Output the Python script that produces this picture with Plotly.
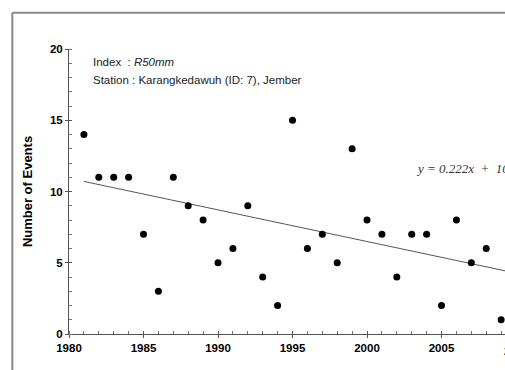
import plotly.graph_objects as go

years = [1981, 1982, 1983, 1984, 1985, 1986, 1987, 1988, 1989, 1990,
         1991, 1992, 1993, 1994, 1995, 1996, 1997, 1998, 1999, 2000,
         2001, 2002, 2003, 2004, 2005, 2006, 2007, 2008, 2009]
events = [14, 11, 11, 11, 7, 3, 11, 9, 8, 5,
          6, 9, 4, 2, 15, 6, 7, 5, 13, 8,
          7, 4, 7, 7, 2, 8, 5, 6, 1]
trend_slope = -0.222
trend_intercept = 10.93
x_tick_vals = [1980, 1985, 1990, 1995, 2000, 2005]
y_tick_vals = [0, 5, 10, 15, 20]
equation_text = "y = 0.222x&nbsp;&nbsp;+&nbsp;&nbsp;10.93"

# trend line over year index (1 = first year)
trend_x = [years[0], 2009.3]
trend_y = [trend_intercept + trend_slope * (x - years[0] + 1) for x in trend_x]

fig = go.Figure()
fig.add_trace(go.Scatter(x=trend_x, y=trend_y, mode="lines",
                         line=dict(color="#555555", width=1), showlegend=False,
                         cliponaxis=False))
fig.add_trace(go.Scatter(x=years, y=events, mode="markers",
                         marker=dict(color="black", size=7), showlegend=False,
                         cliponaxis=False))

tick_font = dict(family="Liberation Sans, Arial", size=11.5, color="black", weight="bold")
x_range = [1980, 2009.26]
y_range = [0, 20]

fig.update_layout(
    xaxis=dict(range=x_range, tickvals=x_tick_vals, ticks="outside",
               ticklen=3, tickcolor="#555", showline=True, linecolor="#555",
               linewidth=1, showgrid=False, zeroline=False, tickfont=tick_font,
               minor=dict(dtick=1, tick0=1980, ticks="inside", ticklen=3,
                          tickcolor="#777", showgrid=False)),
    yaxis=dict(range=y_range, tickvals=y_tick_vals, ticks="outside",
               ticklen=3, tickcolor="#555", showline=True, linecolor="#555",
               linewidth=1, showgrid=False, zeroline=False, tickfont=tick_font,
               title=dict(text="Number of Events", standoff=14,
                          font=dict(family="Liberation Sans, Arial", size=13,
                                    color="black", weight="bold")),
               minor=dict(dtick=1, tick0=0, ticks="inside", ticklen=3,
                          tickcolor="#777", showgrid=False)),
    xaxis2=dict(range=x_range, overlaying="x", tickvals=x_tick_vals,
                ticks="inside", ticklen=3, tickcolor="#555", showticklabels=False,
                showgrid=False, zeroline=False, side="bottom", anchor="y"),
    yaxis2=dict(range=y_range, overlaying="y", tickvals=y_tick_vals,
                ticks="inside", ticklen=3, tickcolor="#555", showticklabels=False,
                showgrid=False, zeroline=False, side="left", anchor="x"),
)
# invisible trace to activate the overlay axes
fig.add_trace(go.Scatter(x=[x_range[0]], y=[y_range[0]], xaxis="x2", yaxis="y2",
                         mode="markers", marker=dict(opacity=0), showlegend=False,
                         hoverinfo="skip"))

fig.add_annotation(xref="paper", yref="paper", x=0.05, y=0.954,
                   xanchor="left", yanchor="middle", showarrow=False,
                   text="Index  : <i>R50mm</i>",
                   font=dict(family="Liberation Sans, Arial", size=11.5, color="#222"))
fig.add_annotation(xref="paper", yref="paper", x=0.05, y=0.891,
                   xanchor="left", yanchor="middle", showarrow=False,
                   text="Station : Karangkedawuh (ID: 7), Jember",
                   font=dict(family="Liberation Sans, Arial", size=11.5, color="#222"))
fig.add_annotation(xref="paper", yref="paper", x=0.792, y=0.582,
                   xanchor="left", yanchor="middle", showarrow=False,
                   text="<i>" + equation_text + "</i>",
                   font=dict(family="Liberation Serif, Times New Roman", size=13,
                             color="#333"))
fig.add_annotation(xref="paper", yref="paper", x=1.0275, y=0, yshift=-17,
                   xanchor="center", yanchor="middle", showarrow=False,
                   text="<b>2010</b>",
                   font=dict(family="Liberation Sans, Arial", size=11.5, color="black"))

# outer frame (top and left edges visible in the crop)
frame_style = dict(color="#888", width=2)
fig.add_shape(type="line", xref="paper", yref="paper",
              x0=-0.13, x1=1.02, y0=1.127, y1=1.127, line=frame_style)
fig.add_shape(type="line", xref="paper", yref="paper",
              x0=-0.13, x1=-0.13, y0=1.127, y1=-0.15, line=frame_style)

fig.update_layout(width=505, height=370,
                  margin=dict(l=69, r=0, t=49, b=36),
                  plot_bgcolor="white", paper_bgcolor="white")

# remove the default page margin so the figure fills the window exactly
page_fix = ("document.body.style.margin='0';"
            "document.documentElement.style.overflow='hidden';"
            "document.body.style.overflow='hidden';")
fig.write_html("out.html", post_script=page_fix,
               config={"displayModeBar": False, "staticPlot": True})
